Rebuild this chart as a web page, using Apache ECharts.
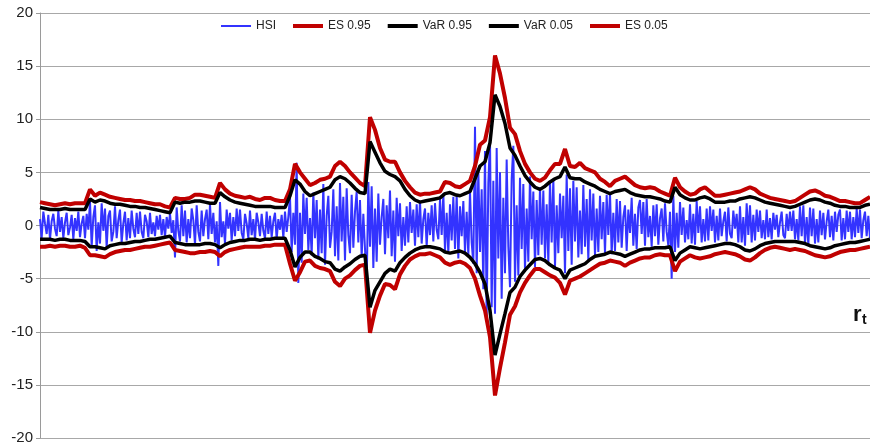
<!DOCTYPE html>
<html>
<head>
<meta charset="utf-8">
<script src="https://cdn.jsdelivr.net/npm/echarts@6/dist/echarts.min.js"></script>
<style>html,body{margin:0;padding:0;background:#fff;}#c{width:870px;height:447px;}</style>
</head>
<body>
<div id="c"></div>
<script>
// Y axis ticks
var yTicks = [-20, -15, -10, -5, 0, 5, 10, 15, 20];
var seriesNames = ['HSI', 'ES 0.95', 'VaR 0.95', 'VaR 0.05', 'ES 0.05'];

// Risk bands (one value per step along the time axis)
var es95 = [
 2.2,2.1,2.0,1.9,2.0,2.1,2.0,2.1,2.1,2.1,
 3.4,2.8,3.1,2.9,2.7,2.6,2.5,2.4,2.4,2.3,
 2.3,2.2,2.1,2.0,2.0,1.8,1.7,2.6,2.5,2.5,
 2.6,2.9,2.9,2.8,2.7,2.6,4.0,3.4,3.0,2.8,
 2.7,2.6,2.7,2.5,2.4,2.6,2.6,2.4,2.3,2.3,
 3.4,5.8,5.0,4.4,3.8,4.0,4.3,4.4,4.6,5.6,
 6.0,5.6,5.0,4.5,4.0,3.7,10.2,9.0,7.3,6.2,
 6.0,6.0,5.0,4.2,3.6,3.1,2.9,3.0,3.0,3.1,
 3.2,4.1,4.0,3.7,3.6,3.9,4.2,5.6,7.6,8.0,
 10.2,16.0,14.3,12.0,9.2,8.6,7.0,5.8,5.0,4.4,
 4.2,4.5,5.2,5.8,5.8,7.2,5.6,5.5,5.9,5.4,
 5.2,5.0,4.4,4.1,3.7,4.2,4.4,4.6,4.2,3.8,
 3.6,3.5,3.6,3.5,3.2,3.0,2.8,4.5,3.6,3.2,
 2.9,3.0,3.4,3.6,3.2,2.8,2.8,2.9,3.0,3.1,
 3.2,3.4,3.6,3.4,3.0,2.8,2.6,2.5,2.4,2.3,
 2.2,2.3,2.6,2.9,3.2,3.3,3.1,2.8,2.7,2.5,
 2.3,2.3,2.2,2.1,2.1,2.4,2.7
];
var var95 = [
 1.7,1.6,1.5,1.5,1.5,1.6,1.5,1.5,1.5,1.5,
 2.5,2.2,2.4,2.3,2.1,2.0,2.0,1.9,1.8,1.8,
 1.7,1.7,1.6,1.5,1.4,1.3,1.2,2.2,2.1,2.2,
 2.2,2.3,2.3,2.2,2.1,2.1,3.1,2.7,2.4,2.2,
 2.1,2.0,1.9,1.8,1.8,1.8,1.8,1.7,1.7,1.7,
 2.8,4.3,3.9,3.2,2.8,3.0,3.2,3.4,3.6,4.3,
 4.6,4.4,4.0,3.5,3.1,3.0,7.9,6.9,5.9,5.1,
 4.8,4.6,4.2,3.4,2.8,2.4,2.2,2.3,2.4,2.5,
 2.6,3.0,3.1,2.9,2.8,3.0,3.2,4.4,5.6,6.0,
 7.8,12.3,11.2,9.6,7.3,6.6,5.6,4.7,4.1,3.6,
 3.4,3.7,4.1,4.4,4.6,5.5,4.5,4.4,4.4,4.1,
 3.9,3.7,3.4,3.2,3.0,3.2,3.3,3.4,3.1,2.9,
 2.8,2.7,2.7,2.6,2.5,2.3,2.2,3.6,2.9,2.6,
 2.4,2.4,2.6,2.7,2.5,2.2,2.2,2.2,2.3,2.3,
 2.5,2.6,2.7,2.6,2.4,2.2,2.1,2.0,1.9,1.8,
 1.7,1.8,2.0,2.2,2.4,2.5,2.4,2.2,2.1,1.9,
 1.8,1.8,1.7,1.7,1.7,1.9,2.0
];
var var05 = [
 -1.3,-1.3,-1.3,-1.4,-1.3,-1.3,-1.4,-1.4,-1.4,-1.5,
 -2.0,-2.0,-2.1,-2.2,-1.9,-1.8,-1.7,-1.7,-1.6,-1.5,
 -1.5,-1.4,-1.3,-1.3,-1.2,-1.1,-1.0,-1.6,-1.7,-1.8,
 -1.8,-1.8,-1.8,-1.7,-1.7,-1.8,-2.1,-1.8,-1.6,-1.5,
 -1.4,-1.4,-1.3,-1.3,-1.4,-1.3,-1.3,-1.2,-1.2,-1.2,
 -2.3,-3.9,-3.0,-2.5,-2.5,-2.9,-3.1,-3.4,-3.5,-4.1,
 -4.3,-3.9,-3.6,-3.2,-2.9,-2.8,-7.7,-6.1,-5.3,-4.5,
 -4.1,-4.3,-3.5,-3.0,-2.6,-2.3,-2.1,-2.0,-2.0,-2.1,
 -2.2,-2.5,-2.6,-2.5,-2.4,-2.6,-3.0,-3.6,-4.4,-5.5,
 -8.0,-12.2,-10.2,-8.3,-6.3,-5.8,-4.8,-4.2,-3.7,-3.2,
 -3.1,-3.3,-3.7,-4.0,-4.2,-5.0,-4.2,-4.0,-3.8,-3.6,
 -3.2,-2.9,-2.8,-2.7,-2.5,-2.6,-2.7,-2.9,-2.7,-2.5,
 -2.3,-2.2,-2.2,-2.1,-2.1,-2.1,-2.0,-3.3,-2.6,-2.3,
 -2.0,-2.1,-2.2,-2.1,-2.0,-1.9,-1.8,-1.7,-1.7,-1.8,
 -2.0,-2.3,-2.4,-2.2,-1.9,-1.7,-1.6,-1.5,-1.5,-1.5,
 -1.5,-1.5,-1.6,-1.7,-1.9,-2.0,-2.1,-2.2,-2.1,-1.9,
 -1.8,-1.7,-1.6,-1.6,-1.5,-1.4,-1.3
];
var es05 = [
 -2.0,-2.0,-1.9,-2.0,-1.9,-1.9,-2.0,-2.0,-1.9,-2.1,
 -2.8,-2.8,-2.9,-3.0,-2.7,-2.5,-2.4,-2.3,-2.3,-2.2,
 -2.1,-2.0,-2.0,-1.9,-1.8,-1.7,-1.6,-2.3,-2.4,-2.5,
 -2.6,-2.6,-2.5,-2.5,-2.4,-2.5,-2.9,-2.5,-2.3,-2.2,
 -2.1,-2.0,-2.0,-2.0,-2.0,-1.9,-1.9,-1.8,-1.8,-1.8,
 -3.6,-5.2,-4.4,-3.4,-3.3,-3.8,-4.0,-4.1,-4.3,-5.3,
 -5.7,-5.0,-4.7,-4.2,-3.8,-3.7,-10.1,-8.0,-6.6,-5.5,
 -5.6,-6.0,-4.6,-3.8,-3.2,-2.9,-2.7,-2.7,-2.6,-2.8,
 -3.0,-3.5,-3.7,-3.5,-3.4,-3.6,-4.0,-5.0,-6.6,-8.0,
 -10.5,-16.0,-13.4,-11.0,-8.4,-7.6,-6.3,-5.4,-4.7,-4.1,
 -4.1,-4.4,-4.7,-4.9,-5.4,-6.5,-5.2,-5.0,-4.8,-4.5,
 -4.2,-3.9,-3.6,-3.5,-3.3,-3.4,-3.5,-3.8,-3.5,-3.3,
 -3.1,-3.0,-3.0,-2.8,-2.7,-2.8,-2.8,-4.3,-3.4,-3.1,
 -2.8,-3.0,-3.1,-3.0,-2.9,-2.7,-2.6,-2.5,-2.6,-2.7,
 -2.9,-3.2,-3.3,-3.0,-2.6,-2.3,-2.1,-2.0,-2.1,-2.2,
 -2.3,-2.2,-2.3,-2.4,-2.6,-2.8,-2.9,-3.0,-2.9,-2.7,
 -2.5,-2.4,-2.3,-2.3,-2.2,-2.1,-2.0
];

// HSI returns (three steps per band step)
var hsi = [
 0.6,-1.2,1.3,0.2,-0.8,1.0,-1.3,0.4,1.1,-0.3,-1.0,1.4,-0.6,0.8,-1.2,0.3,1.2,-0.9,-0.2,1.0,-1.3,0.7,-0.5,1.3,-1.1,0.2,0.9,-1.2,1.1,-0.4,
 2.3,-2.0,0.8,1.9,-2.4,0.3,-1.7,2.1,-0.5,1.6,-2.1,0.9,1.4,-1.5,-0.6,1.8,-1.2,0.5,1.5,-1.6,0.2,1.3,-1.4,0.7,-1.2,1.4,-0.3,-1.1,1.2,-0.8,
 1.3,-0.6,-1.2,1.0,0.4,-1.1,1.2,-0.8,0.3,-1.0,0.9,-0.4,1.0,-0.9,0.6,-1.1,0.8,-0.3,1.1,-0.7,0.5,-3.0,1.7,-0.5,-1.5,1.9,-1.0,1.4,-1.6,0.6,
 -1.2,1.6,0.5,-1.8,1.9,-0.6,-1.5,1.4,-1.0,0.6,1.5,-1.3,2.0,-0.8,1.2,-1.6,0.4,-3.8,2.2,-1.1,0.4,-1.7,1.5,-0.3,1.2,-1.4,0.8,-1.0,1.6,-0.5,
 1.5,-0.7,-1.3,1.1,0.2,-1.2,1.4,-0.9,0.6,-1.3,1.2,0.3,-1.0,1.1,-0.5,-1.2,1.3,-0.8,0.9,-1.1,0.4,1.2,-1.3,0.6,-0.4,1.0,-1.2,1.3,-0.6,0.8,
 2.7,-2.5,1.2,-1.8,5.9,-5.4,1.2,-3.5,3.0,-0.8,2.6,-2.3,0.7,-2.8,3.1,-1.2,2.4,-3.2,1.5,-2.6,3.9,-3.7,0.9,2.8,-2.1,-0.6,3.4,-2.9,1.8,-3.3,
 4.0,-1.5,2.7,-3.3,3.5,-0.9,-2.6,2.9,-2.1,1.3,3.2,-1.6,2.4,-3.0,1.1,-2.2,-5.6,4.1,-2.0,3.7,-4.0,1.6,-3.4,3.0,-1.8,0.8,2.5,-2.7,1.9,-1.2,
 3.3,-2.9,1.4,-3.4,2.6,-1.0,2.1,-2.4,0.8,-1.9,1.8,-1.6,2.2,-0.7,1.5,-1.9,2.0,-1.1,2.3,-1.7,0.6,1.6,-2.0,1.2,-0.9,1.9,-1.5,2.1,-0.4,-1.3,
 2.5,-0.9,3.0,-2.4,1.2,-2.6,2.0,-1.4,2.7,-2.2,2.9,-3.1,1.8,-1.0,2.3,-2.5,1.3,-2.8,3.2,-1.6,-3.6,9.3,-4.5,5.3,-2.5,3.4,-6.0,7.0,-8.7,4.0,
 8.1,-7.7,4.2,-8.3,7.3,-3.1,5.0,-6.9,2.6,-4.5,6.2,-2.0,-5.8,4.4,7.5,-5.3,1.9,-4.7,4.5,-2.2,3.9,-4.2,1.6,-3.4,4.6,-1.3,3.2,-3.9,2.4,-2.8,
 3.6,-1.8,3.3,-3.1,2.0,-3.5,4.2,-1.6,4.4,-3.9,1.9,-2.6,3.0,-1.2,2.8,-4.5,4.8,-2.4,3.5,-3.7,4.2,-1.5,3.6,-3.0,1.4,-2.7,3.8,-2.0,2.5,-3.3,
 3.4,-1.4,3.0,-2.9,1.6,-2.5,2.8,-1.3,2.2,-2.6,2.9,-0.9,3.1,-2.7,1.2,-2.4,2.5,-1.6,2.3,-2.1,0.8,1.9,-2.4,1.5,-0.7,2.6,-1.9,1.1,-2.2,1.7,
 2.4,-0.8,2.2,-1.9,2.5,-1.1,0.9,-2.0,1.9,-1.0,2.0,-1.8,0.7,1.6,-1.5,2.1,-0.6,-1.9,1.3,-5.0,2.8,-2.5,1.2,-2.1,2.2,-0.9,1.7,-1.6,0.5,-1.3,
 2.0,-1.7,1.1,-1.8,2.3,-0.7,1.8,-1.6,0.6,-1.5,1.6,-1.4,1.8,-0.5,1.5,-1.6,0.9,-1.4,1.6,-1.0,0.4,1.3,-1.5,1.7,-0.8,-1.2,1.4,-0.3,1.1,-1.6,
 1.8,-1.6,0.8,-1.9,2.1,-0.9,1.9,-1.6,1.0,-1.4,1.5,-0.6,1.4,-1.2,0.5,-1.3,1.5,-1.1,0.7,-1.3,1.2,-0.4,1.0,-1.1,0.3,1.3,-0.9,-1.2,1.1,-0.5,
 1.3,-0.5,1.4,-1.3,0.6,-1.4,1.8,-1.0,1.9,-1.7,0.8,-1.8,1.7,-1.0,1.6,-1.7,0.6,-1.6,1.4,-0.9,1.2,-1.3,0.4,1.5,-1.1,0.9,-1.4,1.3,-0.6,1.0,
 1.5,-1.4,0.7,-1.3,1.4,-0.6,1.3,-1.3,0.8,-1.1,1.6,-0.7,1.5,-1.2,0.5,1.3,-1.0,0.9,-1.2
];

var bandCats = es95.map(function (_, i) { return String(i); });
var hsiCats = hsi.map(function (_, i) { return String(i); });

var FONT = 'Liberation Sans, Arial, sans-serif';
var thin = 'path://M0,0L30,0L30,2L0,2Z';
var thick = 'path://M0,0L30,0L30,4L0,4Z';
var chart = echarts.init(document.getElementById('c'), null, {renderer: 'canvas'});
chart.setOption({
  animation: false,
  backgroundColor: '#ffffff',
  grid: {left: 40, right: 0, top: 13, bottom: 9, containLabel: false},
  legend: {
    top: 15, left: 216,
    itemWidth: 30, itemHeight: 12, itemGap: 17, symbolKeepAspect: true,
    textStyle: {fontFamily: FONT, fontSize: 12, color: '#222'},
    data: [
      {name: seriesNames[0], icon: thin},
      {name: seriesNames[1], icon: thick},
      {name: seriesNames[2], icon: thick},
      {name: seriesNames[3], icon: thick},
      {name: seriesNames[4], icon: thick}
    ]
  },
  xAxis: [
    {type: 'category', data: bandCats, boundaryGap: false, show: false},
    {type: 'category', data: hsiCats, boundaryGap: false, show: false}
  ],
  yAxis: {
    type: 'value', min: yTicks[0], max: yTicks[yTicks.length - 1], interval: 5,
    axisLine: {show: true, lineStyle: {color: '#9a9a9a', width: 1}},
    axisTick: {show: true, inside: false, length: 4, lineStyle: {color: '#9a9a9a'}},
    axisLabel: {margin: 7, fontFamily: FONT, fontSize: 15, color: '#222'},
    splitLine: {show: true, lineStyle: {color: '#a8a8a8', width: 1}}
  },
  series: [
    {name: seriesNames[0], type: 'line', xAxisIndex: 1, data: hsi, symbol: 'none', showSymbol: false, sampling: null,
     lineStyle: {color: '#3333ff', width: 2}, itemStyle: {color: '#3333ff'}, z: 1},
    {name: seriesNames[1], type: 'line', xAxisIndex: 0, data: es95, symbol: 'none', showSymbol: false,
     lineStyle: {color: '#c00000', width: 4}, itemStyle: {color: '#c00000'}, z: 2},
    {name: seriesNames[2], type: 'line', xAxisIndex: 0, data: var95, symbol: 'none', showSymbol: false,
     lineStyle: {color: '#000000', width: 3.5}, itemStyle: {color: '#000000'}, z: 3},
    {name: seriesNames[3], type: 'line', xAxisIndex: 0, data: var05, symbol: 'none', showSymbol: false,
     lineStyle: {color: '#000000', width: 3.5}, itemStyle: {color: '#000000'}, z: 3},
    {name: seriesNames[4], type: 'line', xAxisIndex: 0, data: es05, symbol: 'none', showSymbol: false,
     lineStyle: {color: '#c00000', width: 4}, itemStyle: {color: '#c00000'}, z: 2}
  ],
  graphic: [
    {type: 'text', left: 853, top: 304, style: {text: 'r', font: 'bold 22px ' + FONT, fill: '#111'}},
    {type: 'text', left: 862, top: 313, style: {text: 't', font: 'bold 14px ' + FONT, fill: '#111'}}
  ]
});
</script>
</body>
</html>
